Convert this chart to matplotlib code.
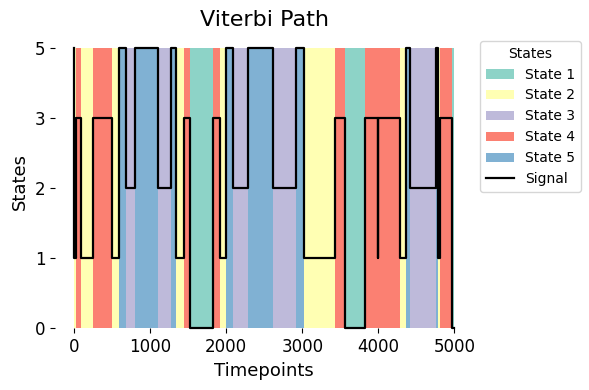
import matplotlib.pyplot as plt
from matplotlib.patches import Patch
from matplotlib.lines import Line2D

# segments of the decoded path: start timepoint and state (1..5)
seg_start = [0, 5, 20, 92, 254, 496, 592, 684, 807, 1101, 1276, 1338, 1439,
             1518, 1825, 1912, 1996, 2083, 2281, 2618, 2917, 3018, 3434, 3566,
             3829, 3990, 3998, 4289, 4364, 4412, 4759, 4781, 4816, 4961]
seg_state = [5, 2, 4, 2, 4, 2, 5, 3, 5, 3, 5, 2, 4,
             1, 4, 2, 5, 3, 5, 3, 5, 2, 4, 1,
             4, 2, 4, 2, 5, 3, 5, 2, 4, 1]
t_end = 5000

state_names = ["State 1", "State 2", "State 3", "State 4", "State 5"]
state_colors = ["#8dd3c7", "#ffffb3", "#bebada", "#fb8072", "#80b1d3"]
ytick_labels = ["0", "1", "2", "3", "5"]

fig = plt.figure(figsize=(5.89, 3.9), dpi=100)
ax = fig.add_axes([0.0934, 0.1577, 0.7105, 0.7549])

edges = seg_start + [t_end]
for i, s in enumerate(seg_state):
    ax.fill_between([edges[i], edges[i + 1]], 0, 4,
                    color=state_colors[s - 1], linewidth=0)

sig = [s - 1 for s in seg_state]
ax.step(edges, sig + [sig[-1]], where="post", color="black", lw=1.6,
        clip_on=False, zorder=3)

ax.set_xlim(-250, 5250)
ax.set_ylim(0, 4.2)
ax.set_yticks(range(5))
ax.set_yticklabels(ytick_labels)
ax.set_xticks([0, 1000, 2000, 3000, 4000, 5000])
ax.tick_params(labelsize=12)
for sp in ax.spines.values():
    sp.set_visible(False)

ax.set_title("Viterbi Path", fontsize=16)
ax.set_xlabel("Timepoints", fontsize=13)
ax.set_ylabel("States", fontsize=13)

handles = [Patch(facecolor=c, label=n) for c, n in zip(state_colors, state_names)]
handles.append(Line2D([0], [0], color="black", lw=1.6, label="Signal"))
ax.legend(handles=handles, title="States", loc="upper left",
          bbox_to_anchor=(1, 1), fontsize=10, title_fontsize=10)

fig.savefig("out.png", dpi=100)
